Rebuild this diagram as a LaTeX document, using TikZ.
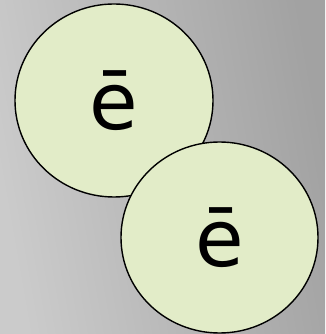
\documentclass[tikz,border=0pt]{standalone}
\usepackage{fontspec}
\setmainfont{DejaVu Sans}
\usetikzlibrary{shapes.geometric}
\definecolor{bgL}{HTML}{CBCBCB}
\definecolor{bgR}{HTML}{A2A2A2}
\definecolor{ballfill}{HTML}{E2ECC8}
\tikzset{
  ball/.style={ellipse, draw=black, line width=1.4pt, fill=ballfill, inner sep=0pt,
    font=\fontsize{79}{86}\selectfont},
}
\begin{document}
\begin{tikzpicture}[x=1pt,y=1pt]
\shade[shading=axis, left color=bgL, right color=bgR, shading angle=100] (0,0) rectangle (325,334);
\useasboundingbox (0,0) rectangle (325,334);
\node[ball, minimum width=198pt, minimum height=193pt] (e1) at (114,233.5) {ē};
\node[ball, minimum width=197pt, minimum height=191pt] (e2) at (219.5,96.5) {ē};
\end{tikzpicture}
\end{document}
